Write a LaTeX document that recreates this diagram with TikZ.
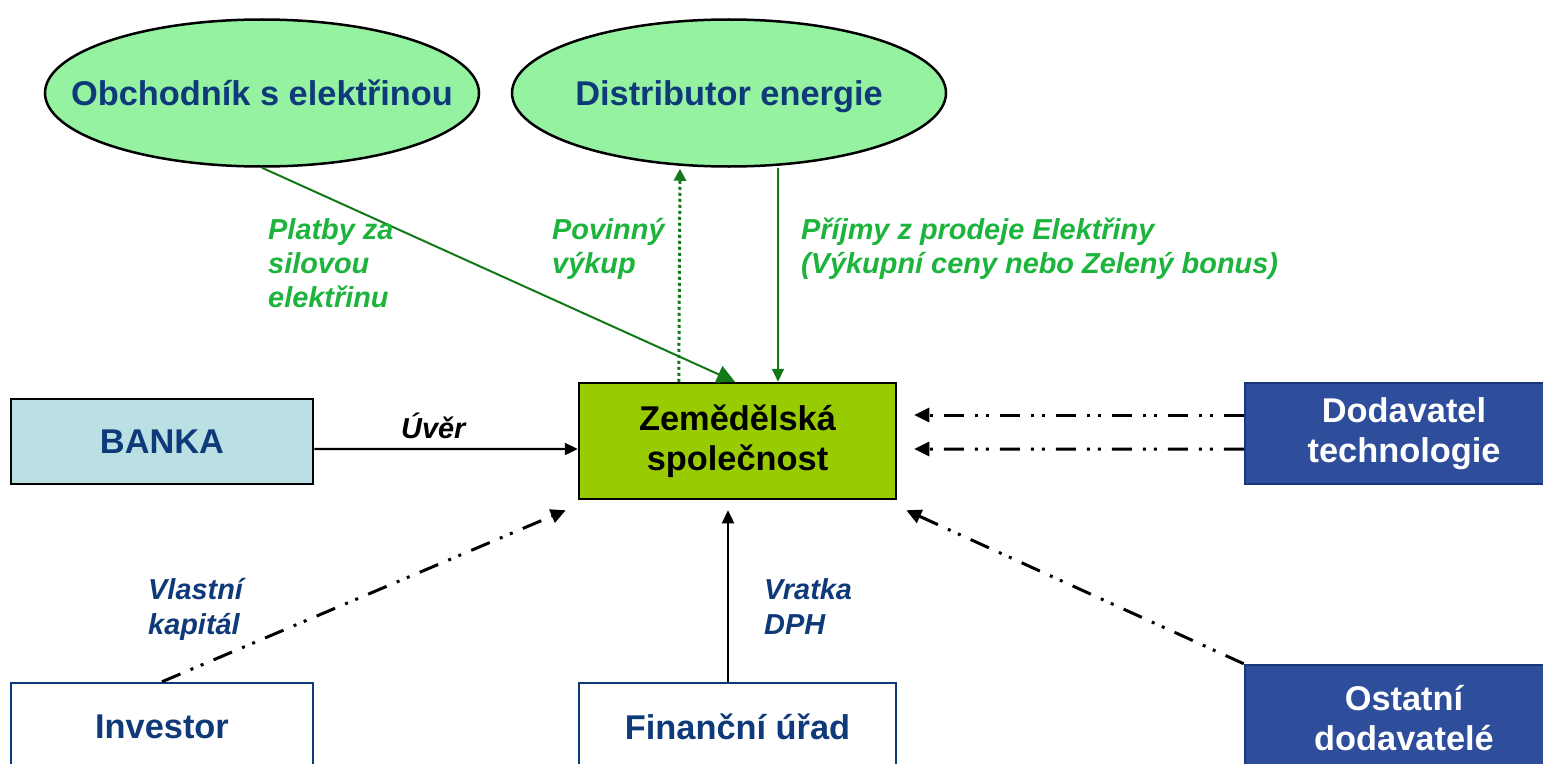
\documentclass[tikz,border=0pt]{standalone}
\usepackage{fontspec}
\setmainfont{Liberation Sans}
\usetikzlibrary{arrows.meta,shapes.geometric,calc}
\definecolor{ellfill}{RGB}{148,242,160}
\definecolor{txtblue}{RGB}{14,58,122}
\definecolor{lblgreen}{RGB}{28,180,60}
\definecolor{arrgreen}{RGB}{18,120,24}
\definecolor{zemfill}{RGB}{153,204,0}
\definecolor{bankfill}{RGB}{186,224,227}
\definecolor{dodfill}{RGB}{46,77,155}
\definecolor{dodline}{RGB}{24,54,120}
\begin{document}
\begin{tikzpicture}[x=1bp,y=-1bp,
  nodefont/.style={font=\fontsize{34.5}{40}\selectfont\bfseries},
  lbl/.style={font=\fontsize{29}{34}\selectfont\bfseries\itshape, anchor=base west, inner sep=0pt},
  ell/.style={ellipse, draw=black, line width=2.5bp, fill=ellfill, minimum width=434bp, minimum height=147bp, inner sep=0pt, nodefont, text=txtblue, text height=25bp, text depth=0bp},
  box/.style={rectangle, line width=2.5bp, inner sep=0pt, nodefont, align=center},
  ddd/.style={line width=3bp, dash pattern=on 20bp off 11bp on 3bp off 8bp on 3bp off 11bp, -{Triangle[length=15bp,width=14bp]}},
  greenarr/.style={draw=arrgreen, line width=2bp},
  blackarr/.style={draw=black, line width=2.4bp, -{Triangle[length=13bp,width=12bp]}}]
\useasboundingbox (0,0) rectangle (1543,764);
\clip (0,0) rectangle (1543,764);

% nodes
\node[ell] (obch) at (262,93) {\makebox[0pt]{Obchodník s elektřinou}};
\node[ell] (dist) at (729,93) {\makebox[0pt]{Distributor energie}};
\node[box, draw=black, fill=zemfill, minimum width=317bp, minimum height=116bp] (zem) at (737.5,441) {Zemědělská\\společnost};
\node[box, draw=black, fill=bankfill, text=txtblue, minimum width=302bp, minimum height=85bp] (banka) at (162,441.5) {BANKA};
\node[box, draw=dodline, fill=dodfill, text=white, minimum width=318bp, minimum height=101bp] (dod) at (1404,433.5) {Dodavatel\\technologie};
\node[box, draw=dodline, fill=dodfill, text=white, minimum width=318bp, minimum height=106bp] (ost) at (1404,718) {Ostatní\\dodavatelé};
\node[box, draw=txtblue, fill=white, text=txtblue, minimum width=302bp, minimum height=88bp] (inv) at (162,727) {Investor};
\node[box, draw=txtblue, fill=white, text=txtblue, minimum width=317bp, minimum height=88bp] (fin) at (737.5,727) {Finanční úřad};

% connectors
\draw[greenarr, -{Triangle[length=18bp,width=18bp]}] (obch.south) -- ($(zem.north)+(-2.5,0)$);
\draw[greenarr, line width=3bp, dash pattern=on 3bp off 3bp, -{Triangle[length=12bp,width=12bp]}] ($(zem.north west)+(101,0)$) -- ($(dist.south)+(-49,1)$);
\draw[greenarr, -{Triangle[length=13bp,width=12bp]}] ($(dist.south)+(49,0)$) -- ($(zem.north)+(40.5,0)$);
\draw[blackarr] ($(banka.east)+(0,7.5)$) -- ($(zem.west)+(0,8)$);
\draw[ddd] ($(dod.west)+(0,-18.5)$) -- ($(zem.east)+(17,-26)$);
\draw[ddd] ($(dod.west)+(0,15.5)$) -- ($(zem.east)+(17,8)$);
\draw[ddd] (inv.north) -- ($(zem.south west)+(-12,10)$);
\draw[blackarr] ($(fin.north)+(-9.5,0)$) -- ($(zem.south)+(-9.5,10)$);
\draw[ddd] (ost.north west) -- ($(zem.south east)+(9,10)$);

% labels
\node[lbl, text=lblgreen] (l1a) at (268,239) {Platby za};
\node[lbl, text=lblgreen] (l1b) at (268,273) {silovou};
\node[lbl, text=lblgreen] (l1c) at (268,307) {elektřinu};
\node[lbl, text=lblgreen] (l2a) at (552,239) {Povinný};
\node[lbl, text=lblgreen] (l2b) at (552,273) {výkup};
\node[lbl, text=lblgreen] (l3a) at (801,239) {Příjmy z prodeje Elektřiny};
\node[lbl, text=lblgreen] (l3b) at (801,273) {(Výkupní ceny nebo Zelený bonus)};
\node[lbl, text=black] (l4) at (401,438) {Úvěr};
\node[lbl, text=txtblue] (l5a) at (148,599) {Vlastní};
\node[lbl, text=txtblue] (l5b) at (148,634) {kapitál};
\node[lbl, text=txtblue] (l6a) at (764,599) {Vratka};
\node[lbl, text=txtblue] (l6b) at (764,634) {DPH};
\end{tikzpicture}
\end{document}
